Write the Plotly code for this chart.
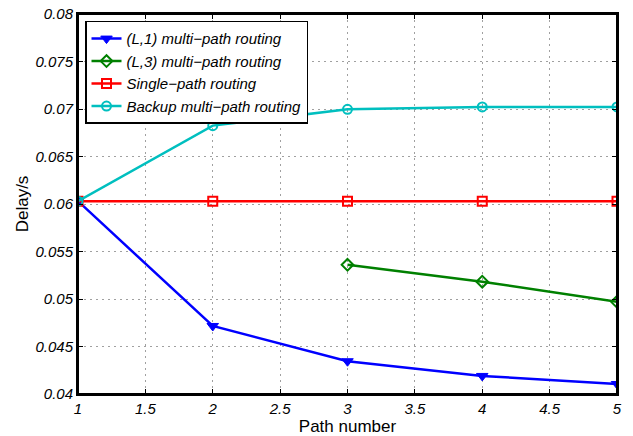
import plotly.graph_objects as go

path_number = [1, 2, 3, 4, 5]
l1_delay = [0.0603, 0.04716, 0.04345, 0.04190, 0.04105]
l3_x = [3, 4, 5]
l3_delay = [0.05360, 0.05182, 0.04970]
single_delay = [0.0603, 0.0603, 0.0603, 0.0603, 0.0603]
backup_delay = [0.0603, 0.06825, 0.06997, 0.07022, 0.07022]

x_ticks = [1, 1.5, 2, 2.5, 3, 3.5, 4, 4.5, 5]
x_ticktext = ["1", "1.5", "2", "2.5", "3", "3.5", "4", "4.5", "5"]
y_ticks = [0.04, 0.045, 0.05, 0.055, 0.06, 0.065, 0.07, 0.075, 0.08]
y_ticktext = ["0.04", "0.045", "0.05", "0.055", "0.06", "0.065", "0.07", "0.075", "0.08"]

names = ["(L,1) multi\u2212path routing", "(L,3) multi\u2212path routing",
         "Single\u2212path routing", "Backup multi\u2212path routing"]

FONT = "Liberation Sans, Arial, Helvetica, sans-serif"

fig = go.Figure()
fig.add_trace(go.Scatter(
    x=path_number, y=l1_delay, mode="lines+markers", name=names[0],
    line=dict(color="#0000ff", width=2.5),
    marker=dict(symbol="triangle-down", size=10, color="#0000ff",
                line=dict(color="#0000ff", width=1))))
fig.add_trace(go.Scatter(
    x=l3_x, y=l3_delay, mode="lines+markers", name=names[1],
    line=dict(color="#008000", width=2.5),
    marker=dict(symbol="diamond-open", size=9, color="#008000",
                line=dict(color="#008000", width=2))))
fig.add_trace(go.Scatter(
    x=path_number, y=single_delay, mode="lines+markers", name=names[2],
    line=dict(color="#ff0000", width=2.5),
    marker=dict(symbol="square-open", size=9, color="#ff0000",
                line=dict(color="#ff0000", width=2))))
fig.add_trace(go.Scatter(
    x=path_number, y=backup_delay, mode="lines+markers", name=names[3],
    line=dict(color="#00bfbf", width=2.5),
    marker=dict(symbol="circle-open", size=9, color="#00bfbf",
                line=dict(color="#00bfbf", width=2))))

axis_common = dict(
    showline=True, linecolor="black", linewidth=2, mirror="allticks",
    ticks="inside", ticklen=5, tickcolor="black", tickwidth=1,
    showgrid=True, gridcolor="#a0a0a0", griddash="2px,4px", gridwidth=1,
    zeroline=False, automargin=False,
    tickfont=dict(family=FONT, size=15, color="black", style="italic"),
)

fig.update_xaxes(range=[1, 5], tickvals=x_ticks, ticktext=x_ticktext,
                 title=dict(text="Path number", standoff=1,
                            font=dict(family=FONT, size=17, color="black")),
                 **axis_common)
fig.update_yaxes(range=[0.04, 0.08], tickvals=y_ticks, ticktext=y_ticktext,
                 title=dict(text="Delay/s", standoff=3,
                            font=dict(family=FONT, size=17, color="black")),
                 **axis_common)

# plot-area frame (MATLAB "box on")
fig.add_shape(type="rect", xref="x domain", yref="y domain", x0=0, y0=0, x1=1, y1=1,
              line=dict(color="#000000", width=2), fillcolor="rgba(0,0,0,0)",
              layer="above")

fig.update_layout(
    width=633, height=436,
    margin=dict(l=78, r=16, t=14, b=42),
    plot_bgcolor="white", paper_bgcolor="white",
    font=dict(family=FONT, color="black"),
    legend=dict(
        x=0.013, y=0.982, xanchor="left", yanchor="top",
        bgcolor="white", bordercolor="black", borderwidth=1.5,
        font=dict(family=FONT, size=15, color="black", style="italic"),
        tracegroupgap=0, itemwidth=30,
    ),
    showlegend=True,
)

fig.write_html("out.html",
               config={"displayModeBar": False},
               post_script="document.body.style.margin='0';document.body.style.overflow='hidden';")
